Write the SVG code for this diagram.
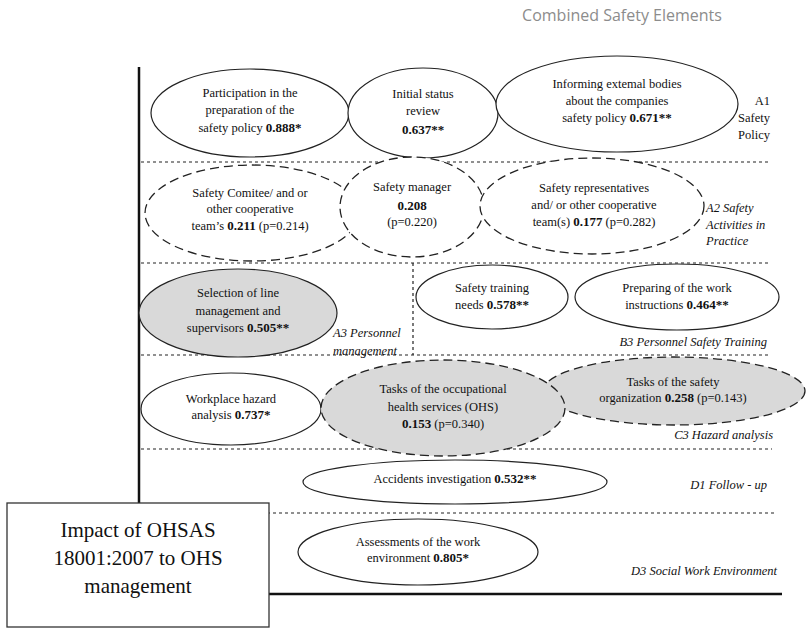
<svg xmlns="http://www.w3.org/2000/svg" width="810" height="628" viewBox="0 0 810 628">
<style>
.t{font-family:'Times New Roman',Times,'Liberation Serif',Tinos,'Noto Serif','DejaVu Serif',FreeSerif,serif;font-size:12.5px;fill:#111;text-anchor:middle}
.b{font-weight:bold;font-size:13px}
.lab{font-family:'Times New Roman',Times,'Liberation Serif',Tinos,'Noto Serif','DejaVu Serif',FreeSerif,serif;font-size:12.5px;fill:#111;font-style:italic}
.lab2{font-family:'Times New Roman',Times,'Liberation Serif',Tinos,'Noto Serif','DejaVu Serif',FreeSerif,serif;font-size:12.5px;fill:#111}
.e{fill:#fff;stroke:#222;stroke-width:1.2}
.ed{fill:#fff;stroke:#222;stroke-width:1.3;stroke-dasharray:9,5}
.g{fill:#d9d9d9}
.sep{stroke:#222;stroke-width:1.2;stroke-dasharray:3,3;fill:none}
.ax{stroke:#111;stroke-width:2.5;fill:none}
</style>
<rect width="810" height="628" fill="#fff"/>
<text x="622" y="21" font-family="'Open Sans','Liberation Sans',sans-serif" font-size="16" fill="#8c8c8c" text-anchor="middle">Combined  Safety Elements</text>
<g id="connectors">
<line class="ax" x1="139" y1="67" x2="139" y2="503"/>
<line class="ax" x1="269" y1="594" x2="782" y2="594"/>
<line class="sep" x1="141" y1="162" x2="770" y2="162"/>
<line class="sep" x1="141" y1="263" x2="770" y2="263"/>
<line class="sep" x1="141" y1="355" x2="770" y2="355"/>
<line class="sep" x1="141" y1="449" x2="772" y2="449"/>
<line class="sep" x1="141" y1="513" x2="775" y2="513"/>
<line class="sep" x1="413" y1="263" x2="413" y2="355"/>
</g>
<g id="n-participation">
<ellipse class="e" cx="250" cy="113" rx="99" ry="44"/>
<text class="t" x="250" y="97">Participation in the</text>
<text class="t" x="250" y="114">preparation of the</text>
<text class="t" x="250" y="132">safety policy <tspan class="b">0.888*</tspan></text>
</g>
<g id="n-initial">
<ellipse class="e" cx="423" cy="113" rx="75" ry="45"/>
<text class="t" x="423" y="98">Initial status</text>
<text class="t" x="423" y="115">review</text>
<text class="t b" x="423" y="134">0.637**</text>
</g>
<g id="n-informing">
<ellipse class="e" cx="617" cy="104" rx="121" ry="48"/>
<text class="t" x="617" y="88">Informing extemal bodies</text>
<text class="t" x="617" y="105">about the companies</text>
<text class="t" x="617" y="122">safety policy <tspan class="b">0.671**</tspan></text>
</g>
<g id="l-a1">
<text class="lab2" x="770" y="105" text-anchor="end">A1</text>
<text class="lab2" x="770" y="122" text-anchor="end">Safety</text>
<text class="lab2" x="770" y="139" text-anchor="end">Policy</text>
</g>
<g id="n-comitee">
<ellipse class="ed" cx="252" cy="213" rx="107" ry="48"/>
<text class="t" x="250" y="197">Safety Comitee/ and or</text>
<text class="t" x="250" y="213">other cooperative</text>
<text class="t" x="250" y="230">team’s <tspan class="b">0.211</tspan> (p=0.214)</text>
</g>
<g id="n-manager">
<ellipse class="ed" cx="412" cy="207" rx="72" ry="50"/>
<text class="t" x="412" y="191">Safety manager</text>
<text class="t b" x="412" y="210">0.208</text>
<text class="t" x="412" y="226">(p=0.220)</text>
</g>
<g id="n-representatives">
<ellipse class="ed" cx="592" cy="206" rx="112" ry="48"/>
<text class="t" x="594" y="192">Safety representatives</text>
<text class="t" x="594" y="209">and/ or other cooperative</text>
<text class="t" x="594" y="226">team(s) <tspan class="b">0.177</tspan> (p=0.282)</text>
</g>
<g id="l-a2">
<text class="lab" x="706" y="212">A2 Safety</text>
<text class="lab" x="706" y="229">Activities in</text>
<text class="lab" x="706" y="245">Practice</text>
</g>
<g id="n-selection">
<ellipse class="e g" cx="238" cy="313" rx="99" ry="44"/>
<text class="t" x="238" y="297">Selection of line</text>
<text class="t" x="238" y="315">management and</text>
<text class="t" x="238" y="332">supervisors <tspan class="b">0.505**</tspan></text>
</g>
<g id="l-a3">
<text class="lab" x="333" y="337">A3 Personnel</text>
<text class="lab" x="333" y="355">management</text>
</g>
<g id="n-training">
<ellipse class="e" cx="492" cy="297" rx="76" ry="32"/>
<text class="t" x="492" y="292">Safety training</text>
<text class="t" x="492" y="309">needs <tspan class="b">0.578**</tspan></text>
</g>
<g id="n-preparing">
<ellipse class="e" cx="677" cy="297" rx="102" ry="33"/>
<text class="t" x="677" y="292">Preparing of the work</text>
<text class="t" x="677" y="309">instructions <tspan class="b">0.464**</tspan></text>
</g>
<text class="lab" x="767" y="346" text-anchor="end">B3 Personnel Safety Training</text>
<g id="n-workplace">
<ellipse class="e" cx="231" cy="409" rx="90" ry="36"/>
<text class="t" x="231" y="403">Workplace hazard</text>
<text class="t" x="231" y="419">analysis <tspan class="b">0.737*</tspan></text>
</g>
<g id="n-organization">
<ellipse class="ed g" cx="674" cy="391" rx="131" ry="34"/>
<text class="t" x="673" y="386">Tasks of the safety</text>
<text class="t" x="673" y="402">organization <tspan class="b">0.258</tspan> (p=0.143)</text>
</g>
<g id="n-ohs">
<ellipse class="ed g" cx="443" cy="408" rx="122" ry="48"/>
<text class="t" x="443" y="393">Tasks of the occupational</text>
<text class="t" x="443" y="411">health services (OHS)</text>
<text class="t" x="443" y="428"><tspan class="b">0.153</tspan> (p=0.340)</text>
</g>
<text class="lab" x="773" y="439" text-anchor="end">C3 Hazard analysis</text>
<g id="n-accidents">
<ellipse class="e" cx="455" cy="482" rx="152" ry="22"/>
<text class="t" x="455" y="483">Accidents investigation <tspan class="b">0.532**</tspan></text>
</g>
<text class="lab" x="767" y="489" text-anchor="end">D1 Follow - up</text>
<g id="n-assessments">
<ellipse class="e" cx="418" cy="552" rx="120" ry="33"/>
<text class="t" x="418" y="546">Assessments of the work</text>
<text class="t" x="418" y="562">environment <tspan class="b">0.805*</tspan></text>
</g>
<text class="lab" x="777" y="575" text-anchor="end">D3 Social Work Environment</text>
<g id="n-impact">
<rect x="7" y="503" width="262" height="124" fill="#fff" stroke="#333" stroke-width="1.3"/>
<text class="t" x="138" y="537" style="font-size:21px">Impact of OHSAS</text>
<text class="t" x="138" y="565" style="font-size:21px">18001:2007 to OHS</text>
<text class="t" x="138" y="593" style="font-size:21px">management</text>
</g>
</svg>
